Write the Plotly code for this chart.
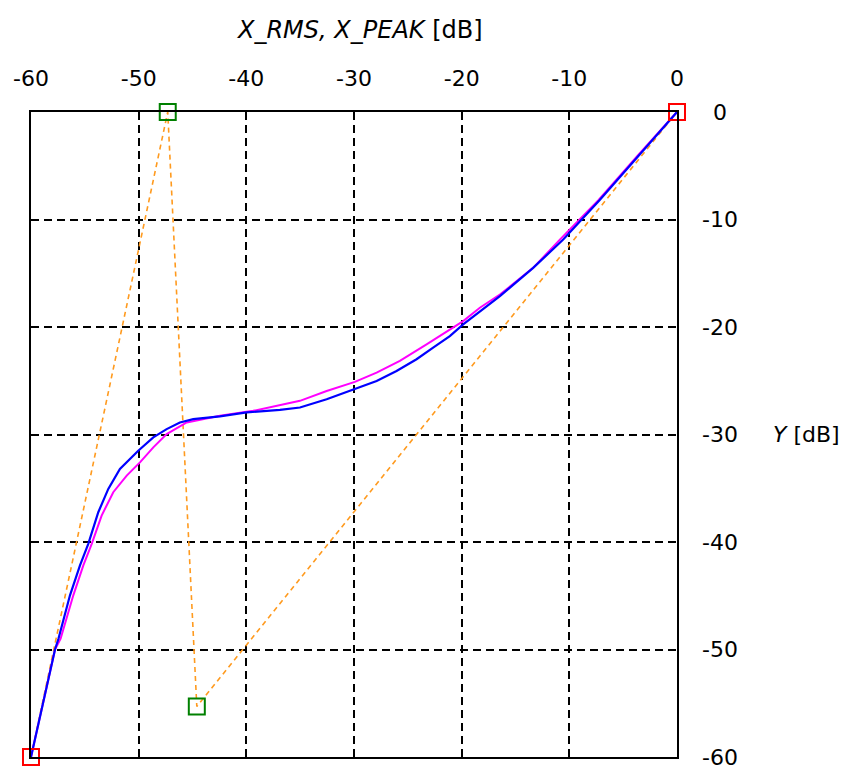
import plotly.graph_objects as go

# Control polygon of the transfer curve (end points and handles)
end_x = [-60, 0]
end_y = [-60, 0]
handle_x = [-47.3, -44.6]
handle_y = [0, -55.3]
poly_x = [-60, -47.3, -44.6, 0]
poly_y = [-60, 0, -55.3, 0]

# Y vs X_PEAK (blue)
peak_x = [-60, -57.77, -57.45, -56.38, -55.45, -54.68, -53.75, -52.82, -51.74,
          -50.04, -48.64, -47.40, -46.17, -44.93, -42.45, -39.97, -36.88,
          -35.02, -32.54, -29.92, -27.90, -26.05, -24.19, -22.65, -21.10,
          -19.86, -18.31, -16.45, -13.36, -10.57, -7.2, -3.6, 0]
peak_y = [-60, -50.0, -49.0, -44.96, -42.18, -40.17, -37.23, -35.06, -33.21,
          -31.51, -30.27, -29.50, -28.88, -28.57, -28.32, -27.95, -27.71,
          -27.49, -26.72, -25.79, -25.02, -24.09, -23.0, -21.92, -20.84,
          -19.76, -18.53, -17.13, -14.5, -11.87, -8.2, -4.1, 0]

# Y vs X_RMS (magenta)
rms_x = [-60, -57.77, -57.25, -56.07, -55.14, -54.36, -53.44, -52.36, -51.11,
         -49.88, -48.64, -47.40, -45.54, -42.45, -39.36, -36.88, -35.02,
         -32.54, -29.92, -27.90, -25.74, -23.26, -19.86, -18.31, -16.45,
         -13.36, -10.88, -7.3, -3.7, 0]
rms_y = [-60, -50.0, -49.0, -44.96, -42.18, -40.17, -37.54, -35.37, -33.83,
         -32.59, -31.2, -29.96, -28.88, -28.26, -27.8, -27.27, -26.87,
         -25.95, -25.11, -24.24, -23.16, -21.61, -19.45, -18.21, -16.98,
         -14.5, -11.87, -8.2, -4.1, 0]

x_ticks = [-60, -50, -40, -30, -20, -10, 0]
y_ticks = [0, -10, -20, -30, -40, -50, -60]

FONT = "DejaVu Sans, Verdana, sans-serif"
FS = 22        # tick labels
FS_TITLE = 24  # axis titles


def label(v):
    # plain hyphen-minus for negative numbers
    return str(v)


fig = go.Figure()
fig.add_trace(go.Scatter(x=poly_x, y=poly_y, mode="lines",
                         line=dict(color="#FF9A1E", width=1.6, dash="5px,4px"),
                         hoverinfo="skip", cliponaxis=False))
fig.add_trace(go.Scatter(x=rms_x, y=rms_y, mode="lines",
                         line=dict(color="#FF00FF", width=2), cliponaxis=False))
fig.add_trace(go.Scatter(x=peak_x, y=peak_y, mode="lines",
                         line=dict(color="#0000FF", width=2.2), cliponaxis=False))
fig.add_trace(go.Scatter(x=end_x, y=end_y, mode="markers",
                         marker=dict(symbol="square-open", size=16, color="#FF0000",
                                     line=dict(width=2, color="#FF0000")),
                         cliponaxis=False))
fig.add_trace(go.Scatter(x=handle_x, y=handle_y, mode="markers",
                         marker=dict(symbol="square-open", size=16, color="#008000",
                                     line=dict(width=2, color="#008000")),
                         cliponaxis=False))

axis_common = dict(
    range=[-60, 0], showgrid=True, gridcolor="black", gridwidth=2,
    griddash="8px,5px", showline=True, linecolor="black", linewidth=2,
    mirror=True, zeroline=False, ticks="",
    tickfont=dict(family=FONT, size=FS, color="black"),
)

fig.update_layout(
    width=841, height=769,
    margin=dict(l=31, r=164, t=112, b=10),
    paper_bgcolor="white", plot_bgcolor="white",
    showlegend=False,
    xaxis=dict(side="top", tickmode="array", tickvals=x_ticks,
               ticktext=[label(v) for v in x_ticks], ticklabelstandoff=15,
               **axis_common),
    yaxis=dict(side="right", tickmode="array", tickvals=y_ticks,
               showticklabels=False, **axis_common),
)

# right-hand tick labels, centred in their column
for v in y_ticks:
    fig.add_annotation(x=1.0666, xref="paper", y=v, yref="y", text=label(v),
                       showarrow=False, xanchor="center", yanchor="middle",
                       font=dict(family=FONT, size=FS, color="black"))

fig.add_annotation(x=0.508, xref="paper", y=1.127, yref="paper",
                   text="<i>X_RMS, X_PEAK</i> [dB]", showarrow=False,
                   xanchor="center", yanchor="middle",
                   font=dict(family=FONT, size=FS_TITLE, color="black"))
fig.add_annotation(x=1.2, xref="paper", y=-30, yref="y",
                   text="<i>Y</i> [dB]", showarrow=False,
                   xanchor="center", yanchor="middle",
                   font=dict(family=FONT, size=FS, color="black"))

fig.write_html("out.html")
